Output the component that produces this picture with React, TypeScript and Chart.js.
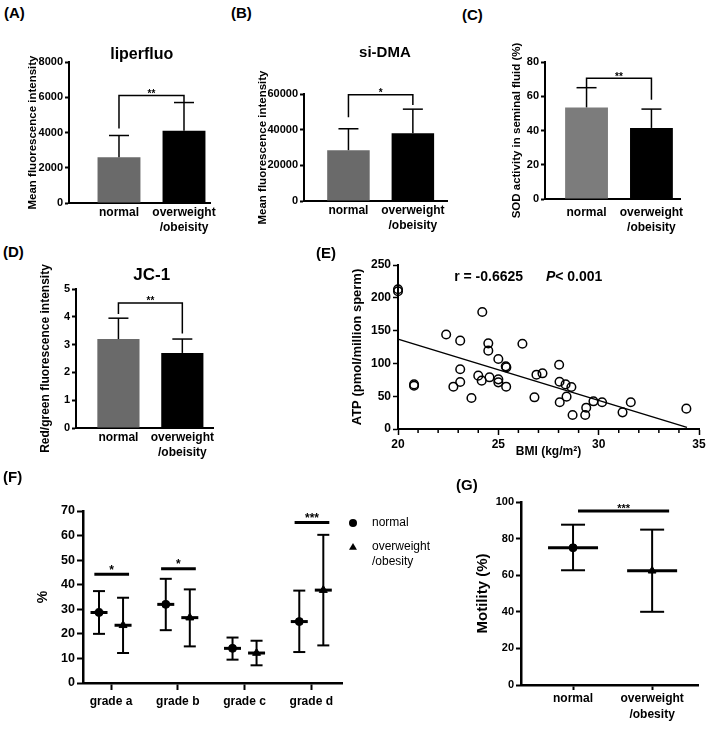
import React, { useEffect, useRef } from "react";
import { Chart, registerables } from "chart.js";

Chart.register(...registerables);

const FF = "'Liberation Sans', Arial, Helvetica, sans-serif";
const font = (size: number, weight: any = "bold", lineHeight = 1.2) => ({ family: FF, size, weight, lineHeight });

// ================= DATA =================
const BAR_GROUPS = [["normal"], ["overweight", "/obeisity"]];
const G_GROUPS = [["normal"], ["overweight", "/obesity"]];

// (A) liperfluo
const A_MEAN = [2600, 4100];
const A_SD = [1230, 1600];
const A_BRACKET = [6100, 4220, 5670]; // bar height, left leg end, right leg end
const A_STARS = "**";

// (B) si-DMA
const B_MEAN = [28500, 38000];
const B_SD = [12000, 13500];
const B_BRACKET = [59600, 46900, 53800];
const B_STARS = "*";

// (C) SOD activity
const C_MEAN = [53.5, 41.5];
const C_SD = [11.5, 11];
const C_BRACKET = [70.5, 65, 58];
const C_STARS = "**";

// (D) JC-1
const D_MEAN = [3.2, 2.7];
const D_SD = [0.75, 0.5];
const D_BRACKET = [4.5, 4.1, 3.4];
const D_STARS = "**";

// (E) BMI vs ATP
const E_BMI = [20, 20, 20.8, 20.8, 22.4, 22.76, 23.1, 23.1, 23.1, 23.66, 24.0, 24.17, 24.2, 24.5, 24.5, 24.56, 25.0, 25.0, 25.0, 25.37, 25.4, 25.39, 26.2, 26.8, 26.9, 27.2, 28.03, 28.05, 28.06, 28.35, 28.4, 28.64, 28.7, 29.33, 29.38, 29.74, 30.17, 31.19, 31.6, 34.37];
const E_ATP = [210, 213, 66, 68, 144, 64.5, 134.7, 91, 71.6, 47.3, 81.3, 73.7, 178.4, 130.6, 119.4, 78.8, 106.7, 75.7, 71.1, 95.5, 94, 64.5, 130, 48.3, 82.8, 84.9, 98, 72, 40.7, 68, 49.3, 64, 21.3, 21.3, 32.5, 42.2, 40.7, 25.4, 40.7, 31];
const E_FIT_BMI = [20, 34.4];
const E_FIT_ATP = [137, 2.5];
const E_R_TEXT = "r = -0.6625";
const E_P_TEXT = "< 0.001";
const E_R_POS = [22.8, 232];
const E_P_POS = [27.37, 232];

// (F) sperm motility grades
const GRADES = ["grade a", "grade b", "grade c", "grade d"];
const F_NORMAL_MEAN = [28.7, 32, 14.1, 25];
const F_NORMAL_UP = [37.4, 42.4, 18.5, 37.6];
const F_NORMAL_LOW = [20, 21.5, 9.5, 12.6];
const F_OVER_MEAN = [23.5, 26.6, 12.2, 37.8];
const F_OVER_UP = [34.7, 38.1, 17.2, 60.3];
const F_OVER_LOW = [12.2, 14.9, 7.2, 15.3];
const F_SIG_LEVEL = [44.3, 46.5, null, 65.3];
const F_SIG_STARS = ["*", "*", "", "***"];
const F_LEGEND = [["normal"], ["overweight", "/obesity"]];

// (G) motility
const G_MEAN = [75, 62.4];
const G_UP = [87.6, 84.9];
const G_LOW = [62.7, 40];
const G_SIG_LEVEL = 95.1;
const G_SIG_SPAN = [1.063, 2.215];
const G_STARS = "***";

// ================= HELPERS =================
type Box = { x: number; y: number; w: number; h: number };
type Area = { l: number; t: number; r: number; b: number };

function frame(box: Box, area: Area) {
  return {
    padding: { left: 0, top: area.t - box.y, right: box.x + box.w - area.r, bottom: 0 },
    yWidth: area.l - box.x,
    xHeight: box.y + box.h - area.b,
  };
}

function yAxis(o: any) {
  return {
    type: "linear",
    position: "left",
    min: o.min ?? 0,
    max: o.max,
    ticks: { stepSize: o.step, color: "#000", font: font(o.tickSize), padding: o.tickPad ?? 2, callback: (v: any) => String(v), autoSkip: false },
    grid: { drawOnChartArea: false, drawTicks: true, tickLength: o.tickLen ?? 4, tickWidth: o.tickWidth ?? 2, tickColor: "#000" },
    border: { display: true, color: "#000", width: o.borderWidth ?? 2 },
    title: { display: true, text: o.title, color: "#000", font: font(o.titleSize), padding: { top: o.titlePad, bottom: 0 } },
    afterFit: (s: any) => { s.width = o.width; },
  };
}

function xIndexAxis(o: any) {
  return {
    type: "linear",
    position: "bottom",
    min: o.min,
    max: o.max,
    offset: false,
    afterBuildTicks: (s: any) => { s.ticks = o.labels.map((_: any, i: number) => ({ value: i + 1 })); },
    ticks: {
      autoSkip: false, maxRotation: 0, minRotation: 0, color: "#000",
      font: font(o.tickSize, "bold", o.lineHeight ?? 1.25), padding: o.labelPad,
      callback: (v: any) => o.labels[Math.round(v) - 1] ?? "",
    },
    grid: { display: !!o.ticks, drawOnChartArea: false, drawTicks: !!o.ticks, tickLength: o.tickLen ?? 5, tickWidth: 2, tickColor: "#000", offset: false },
    border: { display: true, color: "#000", width: o.borderWidth ?? 2 },
    title: o.title ? { display: true, text: o.title, color: "#000", font: font(o.titleSize), padding: { top: 0, bottom: o.titlePad } } : { display: false },
    afterFit: (s: any) => { s.height = o.height; },
  };
}

function line(ctx: any, x1: number, y1: number, x2: number, y2: number) {
  ctx.beginPath();
  ctx.moveTo(x1, y1);
  ctx.lineTo(x2, y2);
  ctx.stroke();
}

function barConfig(o: any) {
  const fr = frame(o.box, o.area);
  const decor = {
    id: "barDecor",
    afterDatasetsDraw(chart: any) {
      const { ctx, chartArea } = chart;
      const x = chart.scales.x;
      const y = chart.scales.y;
      ctx.save();
      ctx.strokeStyle = "#000";
      ctx.lineWidth = 1.5;
      o.mean.forEach((m: number, i: number) => {
        const px = x.getPixelForValue(i + 1);
        const yb = y.getPixelForValue(m);
        const yt = y.getPixelForValue(m + o.sd[i]);
        line(ctx, px, yb, px, yt);
        line(ctx, px - 10, yt, px + 10, yt);
      });
      const x1 = x.getPixelForValue(1);
      const x2 = x.getPixelForValue(2);
      const yh = y.getPixelForValue(o.bracket[0]);
      ctx.beginPath();
      ctx.moveTo(x1, y.getPixelForValue(o.bracket[1]));
      ctx.lineTo(x1, yh);
      ctx.lineTo(x2, yh);
      ctx.lineTo(x2, y.getPixelForValue(o.bracket[2]));
      ctx.stroke();
      ctx.fillStyle = "#000";
      ctx.font = `bold 10px ${FF}`;
      ctx.textAlign = "center";
      ctx.textBaseline = "alphabetic";
      ctx.fillText(o.stars, (x1 + x2) / 2, yh + 1.5);
      if (o.title) {
        ctx.font = `bold ${o.title.size}px ${FF}`;
        ctx.textBaseline = "middle";
        ctx.fillText(o.title.text, x.getPixelForValue(o.title.x), chartArea.top - o.title.dy);
      }
      ctx.restore();
    },
  };
  return {
    type: "bar",
    data: {
      datasets: [{
        data: o.mean.map((v: number, i: number) => ({ x: i + 1, y: v })),
        backgroundColor: o.colors,
        borderWidth: 0,
        barPercentage: 0.66,
        categoryPercentage: 1,
      }],
    },
    options: {
      responsive: false,
      animation: false,
      events: [],
      layout: { padding: fr.padding },
      plugins: { legend: { display: false }, tooltip: { enabled: false }, title: { display: false } },
      scales: {
        x: xIndexAxis({ min: o.xMin, max: o.xMax, labels: BAR_GROUPS, tickSize: 12, labelPad: o.labelPad, height: fr.xHeight }),
        y: yAxis({ max: o.yMax, step: o.yStep, tickSize: o.tickSize ?? 11, title: o.yTitle, titleSize: o.yTitleSize, titlePad: o.yTitlePad, width: fr.yWidth }),
      },
    },
    plugins: [decor],
  };
}

// ---------- E ----------
function eConfig(box: Box, area: Area) {
  const fr = frame(box, area);
  const decor = {
    id: "eDecor",
    afterDraw(chart: any) {
      const { ctx, chartArea } = chart;
      const x = chart.scales.x;
      const y = chart.scales.y;
      ctx.save();
      ctx.strokeStyle = "#000";
      ctx.lineWidth = 1.5;
      for (let v = Math.ceil(x.min); v <= x.max; v++) {
        if (v % 5 === 0) continue;
        const px = x.getPixelForValue(v);
        line(ctx, px, chartArea.bottom, px, chartArea.bottom + 4);
      }
      ctx.fillStyle = "#000";
      ctx.textAlign = "left";
      ctx.textBaseline = "middle";
      ctx.font = `bold 14px ${FF}`;
      ctx.fillText(E_R_TEXT, x.getPixelForValue(E_R_POS[0]), y.getPixelForValue(E_R_POS[1]));
      const px = x.getPixelForValue(E_P_POS[0]);
      const py = y.getPixelForValue(E_P_POS[1]);
      ctx.font = `italic bold 14px ${FF}`;
      ctx.fillText("P", px, py);
      const w = ctx.measureText("P").width;
      ctx.font = `bold 14px ${FF}`;
      ctx.fillText(E_P_TEXT, px + w, py);
      ctx.restore();
    },
  };
  return {
    type: "scatter",
    data: {
      datasets: [
        {
          type: "scatter",
          data: E_BMI.map((b, i) => ({ x: b, y: E_ATP[i] })),
          pointStyle: "circle",
          pointRadius: 4.3,
          pointBorderWidth: 1.5,
          borderColor: "#000",
          backgroundColor: "rgba(255,255,255,0)",
          clip: false,
        },
        {
          type: "line",
          data: E_FIT_BMI.map((b, i) => ({ x: b, y: E_FIT_ATP[i] })),
          borderColor: "#000",
          borderWidth: 1.5,
          pointRadius: 0,
          fill: false,
          clip: false,
        },
      ],
    },
    options: {
      responsive: false,
      animation: false,
      events: [],
      layout: { padding: fr.padding },
      plugins: { legend: { display: false }, tooltip: { enabled: false } },
      scales: {
        x: {
          type: "linear", position: "bottom", min: 20, max: 35,
          ticks: { stepSize: 5, color: "#000", font: font(12), padding: 2, callback: (v: any) => String(v) },
          grid: { drawOnChartArea: false, drawTicks: true, tickLength: 6, tickWidth: 1.5, tickColor: "#000" },
          border: { display: true, color: "#000", width: 2 },
          title: { display: true, text: "BMI (kg/m²)", color: "#000", font: font(12), padding: { top: 0, bottom: 12.8 } },
          afterFit: (s: any) => { s.height = fr.xHeight; },
        },
        y: yAxis({ max: 250, step: 50, tickSize: 12, tickLen: 5, tickWidth: 1.5, title: "ATP (pmol/million sperm)", titleSize: 13, titlePad: 50, width: fr.yWidth }),
      },
    },
    plugins: [decor],
  };
}

// ---------- error-bar drawing for F and G ----------
function drawMeanSD(ctx: any, px: number, y: any, mean: number, up: number, low: number, capHalf: number, meanHalf: number) {
  const yU = y.getPixelForValue(up);
  const yL = y.getPixelForValue(low);
  const yM = y.getPixelForValue(mean);
  ctx.lineWidth = 2;
  line(ctx, px, yU, px, yL);
  line(ctx, px - capHalf, yU, px + capHalf, yU);
  line(ctx, px - capHalf, yL, px + capHalf, yL);
  ctx.lineWidth = 3;
  line(ctx, px - meanHalf, yM, px + meanHalf, yM);
}

function triangle(ctx: any, cx: number, cy: number, r: number) {
  ctx.beginPath();
  ctx.moveTo(cx, cy - r);
  ctx.lineTo(cx + r * 0.866, cy + r * 0.5);
  ctx.lineTo(cx - r * 0.866, cy + r * 0.5);
  ctx.closePath();
  ctx.fill();
}

const F_OFFSET = 0.18;

function fConfig(box: Box, area: Area) {
  const fr = frame(box, area);
  const decor = {
    id: "fDecor",
    beforeDatasetsDraw(chart: any) {
      const { ctx } = chart;
      const x = chart.scales.x;
      const y = chart.scales.y;
      ctx.save();
      ctx.strokeStyle = "#000";
      GRADES.forEach((_, i) => {
        drawMeanSD(ctx, x.getPixelForValue(i + 1 - F_OFFSET), y, F_NORMAL_MEAN[i], F_NORMAL_UP[i], F_NORMAL_LOW[i], 6, 8.5);
        drawMeanSD(ctx, x.getPixelForValue(i + 1 + F_OFFSET), y, F_OVER_MEAN[i], F_OVER_UP[i], F_OVER_LOW[i], 6, 8.5);
      });
      ctx.restore();
    },
    afterDraw(chart: any) {
      const { ctx, chartArea } = chart;
      const x = chart.scales.x;
      const y = chart.scales.y;
      ctx.save();
      ctx.strokeStyle = "#000";
      ctx.fillStyle = "#000";
      ctx.lineWidth = 3;
      ctx.textAlign = "center";
      ctx.textBaseline = "alphabetic";
      ctx.font = `bold 12px ${FF}`;
      F_SIG_LEVEL.forEach((lv, i) => {
        if (lv == null) return;
        const x1 = x.getPixelForValue(i + 1 - 0.25);
        const x2 = x.getPixelForValue(i + 1 + 0.27);
        const yy = y.getPixelForValue(lv);
        line(ctx, x1, yy, x2, yy);
        ctx.fillText(F_SIG_STARS[i], (x1 + x2) / 2, yy - 0.5);
      });
      // legend
      const lx = chartArea.right + 11;
      const tx = chartArea.right + 30;
      const y0 = chartArea.top + 12;
      ctx.beginPath();
      ctx.arc(lx, y0, 4, 0, Math.PI * 2);
      ctx.fill();
      triangle(ctx, lx, y0 + 24.5, 4.6);
      ctx.font = `normal 12px ${FF}`;
      ctx.textAlign = "left";
      ctx.textBaseline = "middle";
      ctx.fillText(F_LEGEND[0][0], tx, y0);
      ctx.fillText(F_LEGEND[1][0], tx, y0 + 24);
      ctx.fillText(F_LEGEND[1][1], tx, y0 + 39);
      ctx.restore();
    },
  };
  return {
    type: "scatter",
    data: {
      datasets: [
        {
          label: "normal",
          data: F_NORMAL_MEAN.map((m, i) => ({ x: i + 1 - F_OFFSET, y: m })),
          pointStyle: "circle", pointRadius: 4, backgroundColor: "#000", borderColor: "#000",
        },
        {
          label: "overweight/obesity",
          data: F_OVER_MEAN.map((m, i) => ({ x: i + 1 + F_OFFSET, y: m })),
          pointStyle: "triangle", pointRadius: 4.6, backgroundColor: "#000", borderColor: "#000",
        },
      ],
    },
    options: {
      responsive: false,
      animation: false,
      events: [],
      layout: { padding: fr.padding },
      plugins: { legend: { display: false }, tooltip: { enabled: false } },
      scales: {
        x: xIndexAxis({ min: 0.58, max: 4.46, labels: GRADES, tickSize: 12, labelPad: 4, height: fr.xHeight, ticks: true, tickLen: 7, borderWidth: 2.5 }),
        y: yAxis({ max: 70, step: 10, tickSize: 12.5, tickLen: 6, title: "%", titleSize: 14, titlePad: 34.6, width: fr.yWidth, borderWidth: 2.5 }),
      },
    },
    plugins: [decor],
  };
}

function gConfig(box: Box, area: Area) {
  const fr = frame(box, area);
  const decor = {
    id: "gDecor",
    beforeDatasetsDraw(chart: any) {
      const { ctx } = chart;
      const x = chart.scales.x;
      const y = chart.scales.y;
      ctx.save();
      ctx.strokeStyle = "#000";
      G_MEAN.forEach((m, i) => {
        drawMeanSD(ctx, x.getPixelForValue(i + 1), y, m, G_UP[i], G_LOW[i], 12, 25);
      });
      ctx.restore();
    },
    afterDraw(chart: any) {
      const { ctx } = chart;
      const x = chart.scales.x;
      const y = chart.scales.y;
      ctx.save();
      ctx.strokeStyle = "#000";
      ctx.fillStyle = "#000";
      ctx.lineWidth = 3;
      const x1 = x.getPixelForValue(G_SIG_SPAN[0]);
      const x2 = x.getPixelForValue(G_SIG_SPAN[1]);
      const yy = y.getPixelForValue(G_SIG_LEVEL);
      line(ctx, x1, yy, x2, yy);
      ctx.font = `bold 11px ${FF}`;
      ctx.textAlign = "center";
      ctx.textBaseline = "alphabetic";
      ctx.fillText(G_STARS, (x1 + x2) / 2, yy + 1.5);
      ctx.restore();
    },
  };
  return {
    type: "scatter",
    data: {
      datasets: [
        { label: "normal", data: [{ x: 1, y: G_MEAN[0] }], pointStyle: "circle", pointRadius: 4, backgroundColor: "#000", borderColor: "#000" },
        { label: "overweight/obesity", data: [{ x: 2, y: G_MEAN[1] }], pointStyle: "triangle", pointRadius: 4.5, backgroundColor: "#000", borderColor: "#000" },
      ],
    },
    options: {
      responsive: false,
      animation: false,
      events: [],
      layout: { padding: fr.padding },
      plugins: { legend: { display: false }, tooltip: { enabled: false } },
      scales: {
        x: xIndexAxis({ min: 0.342, max: 2.58, labels: G_GROUPS, tickSize: 12, lineHeight: 1.3, labelPad: 1, height: fr.xHeight, ticks: true, tickLen: 5, borderWidth: 2.5 }),
        y: yAxis({ max: 100, step: 20, tickSize: 11, tickLen: 5, title: "Motility (%)", titleSize: 15, titlePad: 14, width: fr.yWidth, borderWidth: 2.5 }),
      },
    },
    plugins: [decor],
  };
}

// ================= PANELS =================
const GRAY = "#6a6a6a";
const GRAY_C = "#7c7c7c";

const PANELS: { box: Box; make: () => any }[] = [
  {
    box: { x: 0, y: 25, w: 230, h: 215 },
    make: () => barConfig({
      box: { x: 0, y: 25, w: 230, h: 215 }, area: { l: 69, t: 62, r: 210, b: 203 },
      mean: A_MEAN, sd: A_SD, bracket: A_BRACKET, stars: A_STARS, colors: [GRAY, "#000"],
      xMin: 0.231, xMax: 2.4, yMax: 8000, yStep: 2000,
      yTitle: "Mean fluorescence intensity", yTitleSize: 11.5, yTitlePad: 26, labelPad: 2.5,
      title: { text: "liperfluo", size: 16, x: 1.35, dy: 7 },
    }),
  },
  {
    box: { x: 230, y: 25, w: 230, h: 215 },
    make: () => barConfig({
      box: { x: 230, y: 25, w: 230, h: 215 }, area: { l: 304, t: 94, r: 447, b: 201 },
      mean: B_MEAN, sd: B_SD, bracket: B_BRACKET, stars: B_STARS, colors: [GRAY, "#000"],
      xMin: 0.31, xMax: 2.53, yMax: 60000, yStep: 20000,
      yTitle: "Mean fluorescence intensity", yTitleSize: 11.5, yTitlePad: 26, labelPad: 2.5,
      title: { text: "si-DMA", size: 15, x: 1.566, dy: 41 },
    }),
  },
  {
    box: { x: 460, y: 25, w: 249, h: 215 },
    make: () => barConfig({
      box: { x: 460, y: 25, w: 249, h: 215 }, area: { l: 545, t: 62, r: 680, b: 199 },
      mean: C_MEAN, sd: C_SD, bracket: C_BRACKET, stars: C_STARS, colors: [GRAY_C, "#000"],
      xMin: 0.36, xMax: 2.44, yMax: 80, yStep: 20,
      yTitle: "SOD activity in seminal fluid (%)", yTitleSize: 11.5, yTitlePad: 50, labelPad: 6.5,
    }),
  },
  {
    box: { x: 0, y: 262, w: 230, h: 208 },
    make: () => barConfig({
      box: { x: 0, y: 262, w: 230, h: 208 }, area: { l: 76, t: 289, r: 213, b: 428 },
      mean: D_MEAN, sd: D_SD, bracket: D_BRACKET, stars: D_STARS, colors: [GRAY, "#000"],
      xMin: 0.336, xMax: 2.48, yMax: 5, yStep: 1,
      yTitle: "Red/green fluorescence intensity", yTitleSize: 12, yTitlePad: 38.8, labelPad: 2.5,
      title: { text: "JC-1", size: 17, x: 1.52, dy: 14 },
    }),
  },
  {
    box: { x: 300, y: 250, w: 409, h: 222 },
    make: () => eConfig({ x: 300, y: 250, w: 409, h: 222 }, { l: 398, t: 265, r: 699, b: 429 }),
  },
  {
    box: { x: 0, y: 485, w: 460, h: 244 },
    make: () => fConfig({ x: 0, y: 485, w: 460, h: 244 }, { l: 83, t: 511, r: 342, b: 683 }),
  },
  {
    box: { x: 460, y: 485, w: 249, h: 244 },
    make: () => gConfig({ x: 460, y: 485, w: 249, h: 244 }, { l: 521, t: 502, r: 698, b: 685 }),
  },
];

const PANEL_LABELS = [
  { text: "(A)", x: 4, y: 5 },
  { text: "(B)", x: 231, y: 5 },
  { text: "(C)", x: 462, y: 7 },
  { text: "(D)", x: 3, y: 244 },
  { text: "(E)", x: 316, y: 245 },
  { text: "(F)", x: 3, y: 469 },
  { text: "(G)", x: 456, y: 477 },
];

function ChartCanvas({ box, make }: { box: Box; make: () => any }) {
  const ref = useRef<HTMLCanvasElement>(null);
  useEffect(() => {
    const chart = new Chart(ref.current as HTMLCanvasElement, make());
    return () => chart.destroy();
  }, []);
  return (
    <canvas
      ref={ref}
      width={box.w}
      height={box.h}
      style={{ position: "absolute", left: box.x, top: box.y, width: box.w, height: box.h }}
    />
  );
}

export default function App() {
  return (
    <div style={{ position: "absolute", left: 0, top: 0, width: 709, height: 729, background: "#fff", overflow: "hidden" }}>
      {PANELS.map((p, i) => (
        <ChartCanvas key={i} box={p.box} make={p.make} />
      ))}
      {PANEL_LABELS.map((l) => (
        <div
          key={l.text}
          style={{ position: "absolute", left: l.x, top: l.y, fontFamily: FF, fontWeight: "bold", fontSize: 15, lineHeight: "16px", color: "#000" }}
        >
          {l.text}
        </div>
      ))}
    </div>
  );
}
